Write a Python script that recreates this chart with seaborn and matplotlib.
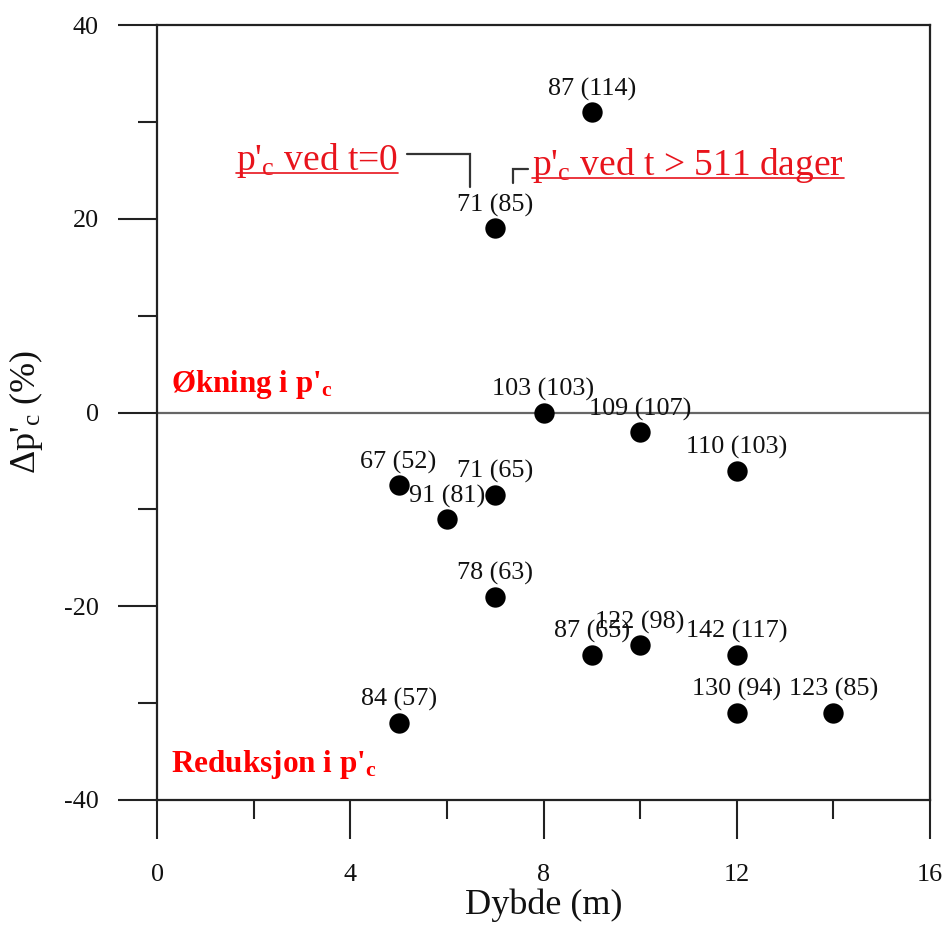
import matplotlib
matplotlib.use("Agg")
import matplotlib.pyplot as plt
import seaborn as sns
import pandas as pd

# ---- data ----
depth = [9, 7, 8, 10, 12, 5, 7, 6, 7, 9, 10, 12, 12, 14, 5]
delta_pc = [31, 19, 0, -2, -6, -7.5, -8.5, -11, -19, -25, -24, -25, -31, -31, -32]
pc_t0 = [87, 71, 103, 109, 110, 67, 71, 91, 78, 87, 122, 142, 130, 123, 84]
pc_t511 = [114, 85, 103, 107, 103, 52, 65, 81, 63, 65, 98, 117, 94, 85, 57]

x_ticks = [0, 4, 8, 12, 16]
x_minor = [2, 6, 10, 14]
y_ticks = [-40, -20, 0, 20, 40]
y_minor = [-30, -10, 10, 30]

df = pd.DataFrame({"Dybde": depth, "dpc": delta_pc, "t0": pc_t0, "t511": pc_t511})

sns.set_style("ticks")
plt.rcParams["font.family"] = ["Liberation Serif", "DejaVu Serif"]
plt.rcParams["mathtext.fontset"] = "custom"
plt.rcParams["mathtext.rm"] = "Liberation Serif"
plt.rcParams["mathtext.it"] = "Liberation Serif:italic"
plt.rcParams["mathtext.bf"] = "Liberation Serif:bold"
plt.rcParams["axes.unicode_minus"] = False

fig = plt.figure(figsize=(9.47, 9.25), dpi=100)
ax = fig.add_axes([157 / 947, 1 - 800 / 925, (930 - 157) / 947, (800 - 25) / 925])

sns.scatterplot(data=df, x="Dybde", y="dpc", ax=ax, color="black", s=215,
                edgecolor="black", linewidth=0, zorder=5, legend=False)

ax.axhline(0, color="#666666", lw=1.6, zorder=1)

for x, y, a, b in zip(depth, delta_pc, pc_t0, pc_t511):
    ax.annotate(f"{a} ({b})", (x, y), xytext=(0, 16.5), textcoords="offset points",
                ha="center", va="center", fontsize=18.8, color="#111111", zorder=6)

ax.set_xlim(0, 16)
ax.set_ylim(-40, 40)
ax.set_xticks(x_ticks)
ax.set_xticks(x_minor, minor=True)
ax.set_yticks(y_ticks)
ax.set_yticks(y_minor, minor=True)
ax.tick_params(which="major", direction="out", length=28, width=1.5, color="#222222",
               labelsize=18.8, labelcolor="#111111")
ax.tick_params(which="minor", direction="out", length=14, width=1.5, color="#222222")
ax.tick_params(axis="y", which="major", pad=14)
ax.tick_params(axis="x", which="major", pad=18)
for sp in ax.spines.values():
    sp.set_linewidth(1.6)
    sp.set_color("#222222")

ax.set_xlabel("Dybde (m)", fontsize=26, labelpad=2, color="#111111")
ax.set_ylabel("Δp'$_\\mathrm{c}$ (%)", fontsize=26, color="#111111")
ax.yaxis.set_label_coords(-0.145, 0.5)

# red region labels
ax.text(0.3, 2.85, "Økning i p'$_\\mathbf{c}$", color="red", fontsize=22.3,
        fontweight="bold", ha="left", va="center")
ax.text(0.3, -36.3, "Reduksjon i p'$_\\mathbf{c}$", color="red", fontsize=22.5,
        fontweight="bold", ha="left", va="center")

# red linked titles with connectors
t_left = ax.text(1.64, 25.0, "p'$_\\mathrm{c}$ ved t=0", color="#e8141c",
                 fontsize=27, ha="left", va="baseline")
t_right = ax.text(7.76, 24.5, "p'$_\\mathrm{c}$ ved t > 511 dager", color="#e8141c",
                  fontsize=27, ha="left", va="baseline")

ax.plot([5.18, 6.48, 6.48], [26.7, 26.7, 23.3], color="#333333", lw=1.6,
        solid_joinstyle="miter")
ax.plot([7.68, 7.37, 7.37], [25.1, 25.1, 23.7], color="#333333", lw=1.6,
        solid_joinstyle="miter")

fig.canvas.draw()
renderer = fig.canvas.get_renderer()
inv = ax.transData.inverted()
for t, base in ((t_left, 25.0), (t_right, 24.5)):
    bb = t.get_window_extent(renderer)
    base_disp = ax.transData.transform((0, base))[1]
    yline = base_disp - 3
    (x0, y0) = inv.transform((bb.x0, yline))
    (x1, _) = inv.transform((bb.x1, yline))
    ax.plot([x0, x1], [y0, y0], color="#e8141c", lw=1.2)

fig.savefig("out.png", dpi=100)
